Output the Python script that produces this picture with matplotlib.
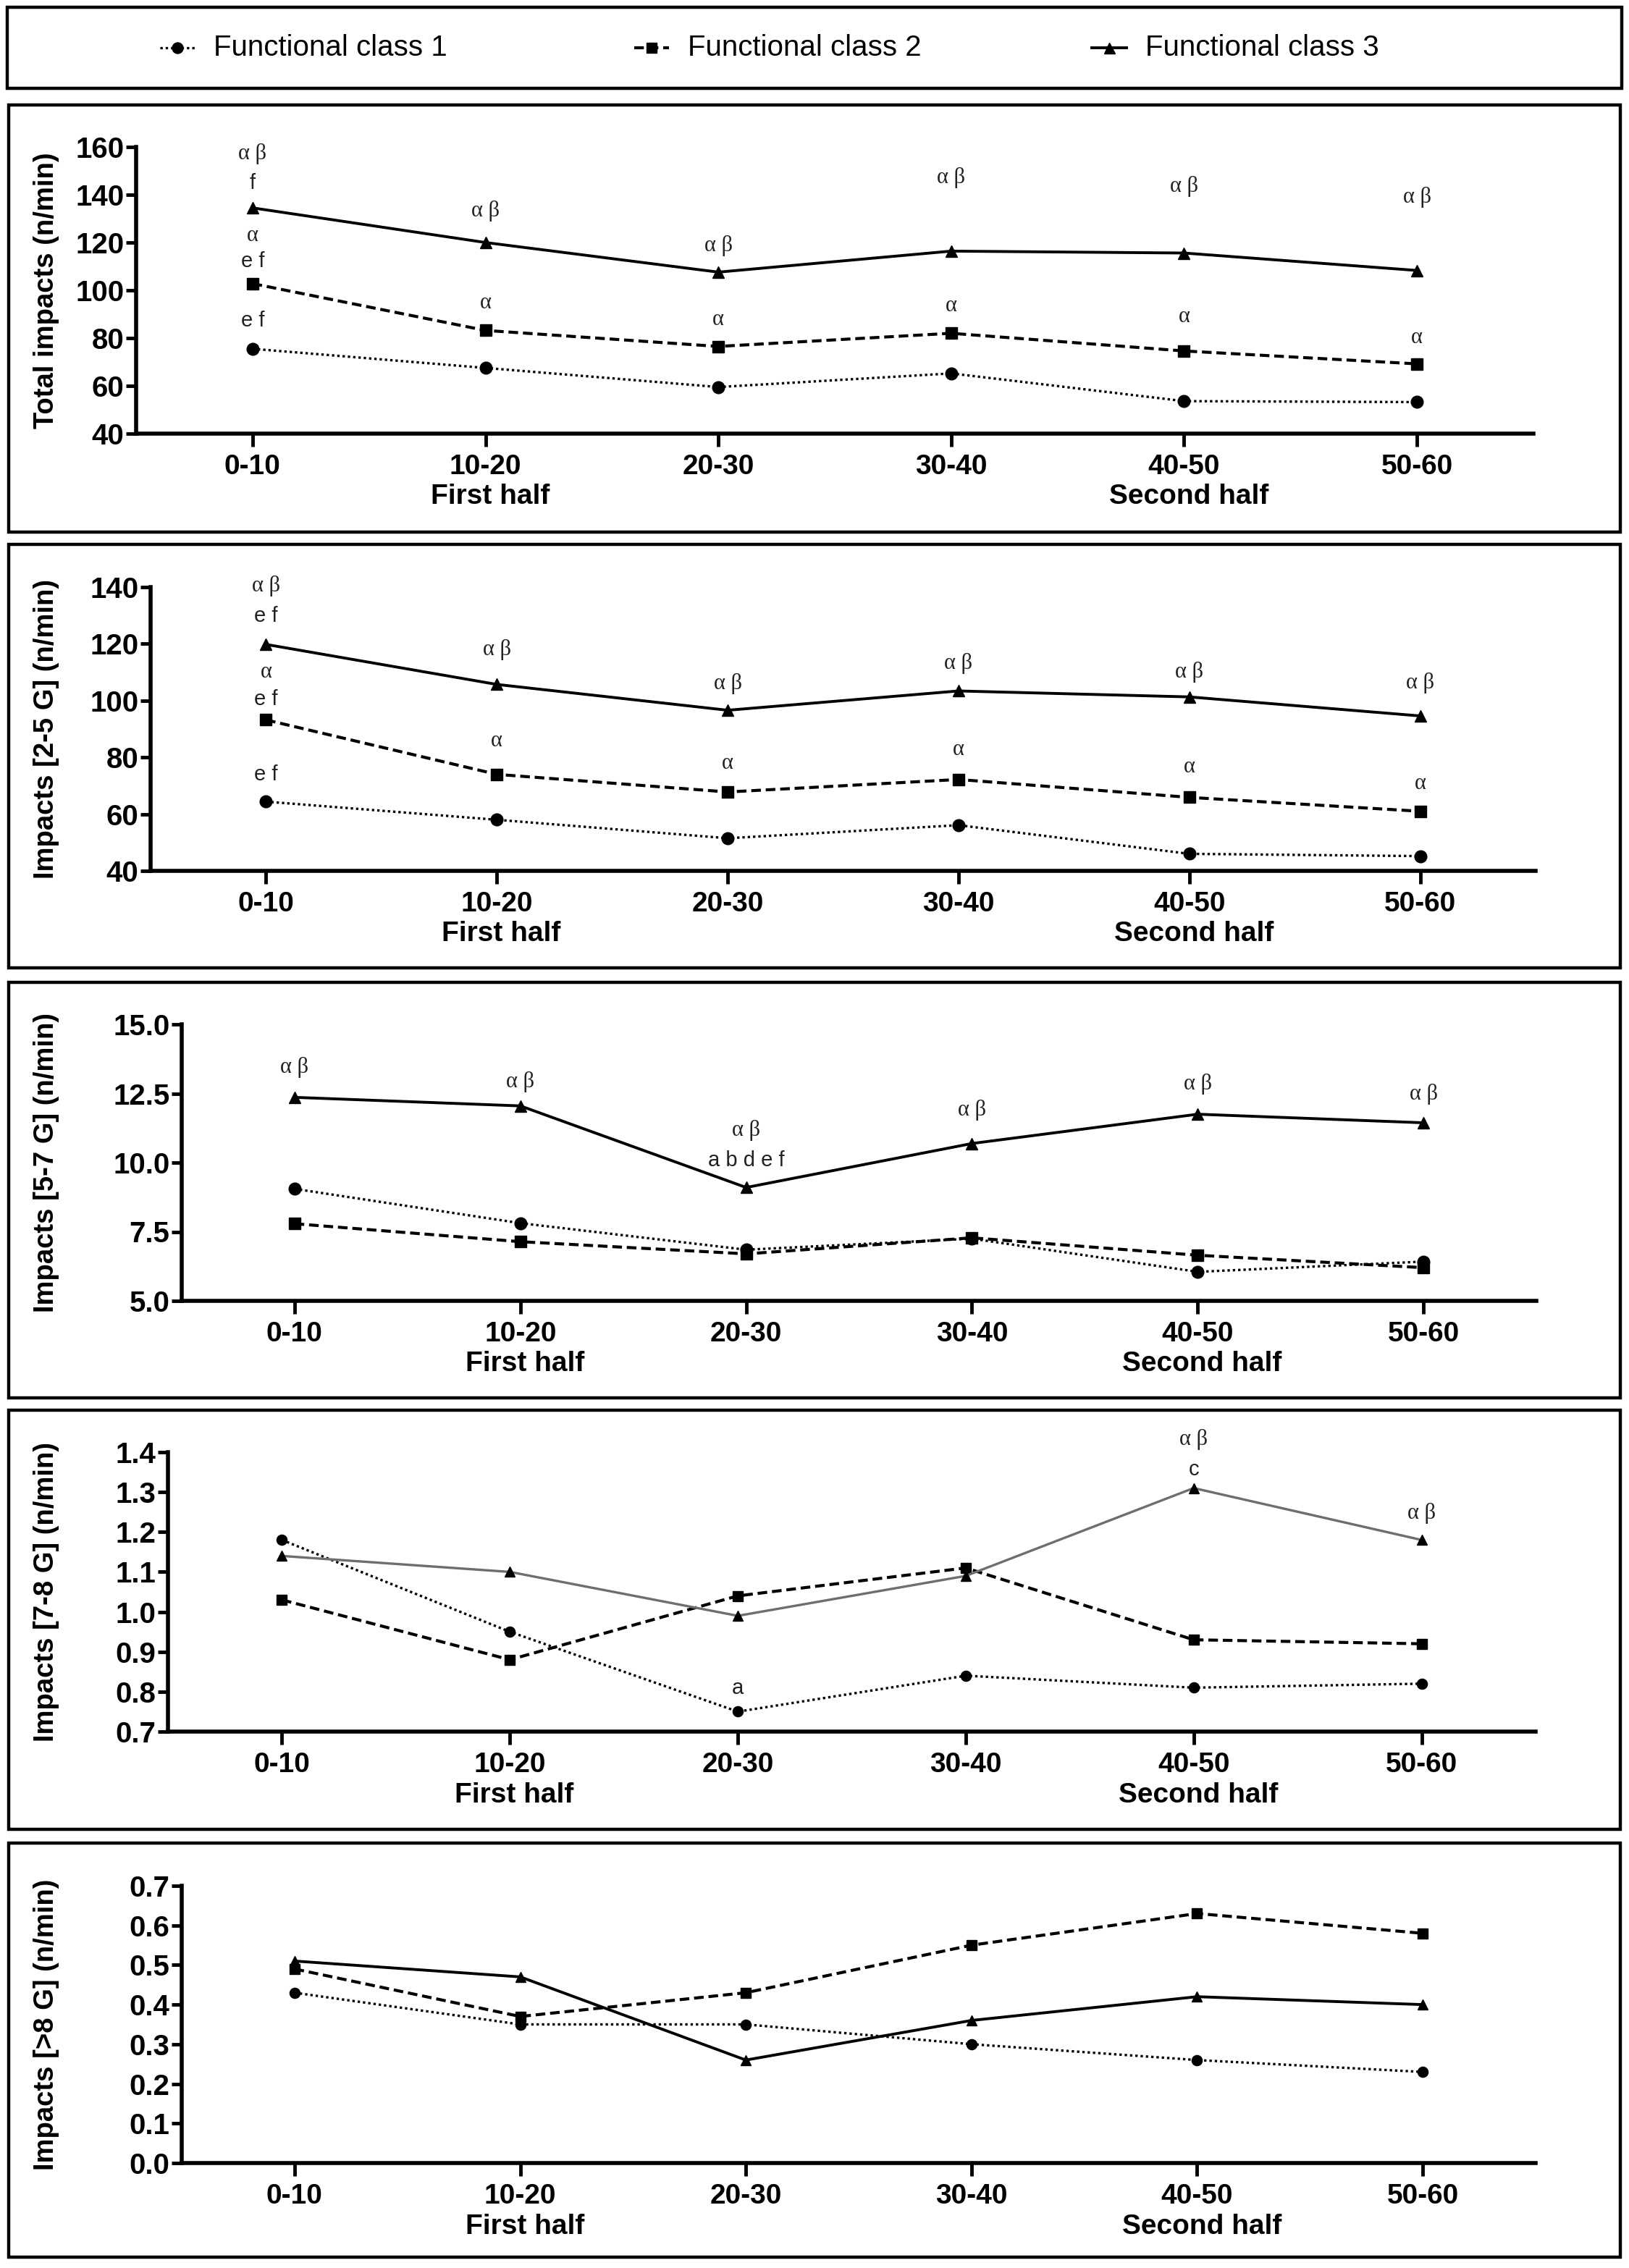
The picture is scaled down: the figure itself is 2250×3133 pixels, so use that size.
import matplotlib
matplotlib.use("Agg")
import matplotlib.pyplot as plt
from matplotlib.patches import Rectangle

W, H, DPI = 2250, 3133, 100

plt.rcParams["font.family"] = ["Liberation Sans", "DejaVu Sans"]
GREEK_FONT = ["Liberation Serif", "DejaVu Serif"]

PERIODS = ["0-10", "10-20", "20-30", "30-40", "40-50", "50-60"]
CLASS_NAMES = ["Functional class 1", "Functional class 2", "Functional class 3"]

# values (n/min)
TOTAL_C1 = [75.5, 67.5, 59.5, 65.2, 53.6, 53.2]
TOTAL_C2 = [102.8, 83.2, 76.5, 82.0, 74.6, 69.2]
TOTAL_C3 = [134.5, 120.0, 107.6, 116.4, 115.6, 108.3]

G25_C1 = [64.4, 58.0, 51.5, 56.1, 46.0, 45.2]
G25_C2 = [93.2, 74.0, 67.8, 72.2, 65.9, 61.0]
G25_C3 = [119.8, 105.7, 96.6, 103.4, 101.3, 94.6]

G57_C1 = [9.05, 7.81, 6.85, 7.25, 6.05, 6.42]
G57_C2 = [7.79, 7.14, 6.70, 7.28, 6.65, 6.20]
G57_C3 = [12.36, 12.05, 9.10, 10.69, 11.75, 11.44]

G78_C1 = [1.18, 0.95, 0.75, 0.84, 0.81, 0.82]
G78_C2 = [1.03, 0.88, 1.04, 1.11, 0.93, 0.92]
G78_C3 = [1.14, 1.10, 0.99, 1.09, 1.31, 1.18]

G8_C1 = [0.43, 0.35, 0.35, 0.30, 0.26, 0.23]
G8_C2 = [0.49, 0.37, 0.43, 0.55, 0.63, 0.58]
G8_C3 = [0.51, 0.47, 0.26, 0.36, 0.42, 0.40]

# significance letters: (period index, y value, text)
TOTAL_NOTES = [(0, 157.2, "α β"), (0, 144.8, "f"), (0, 122.8, "α"), (0, 112.0, "e f"),
               (0, 87.4, "e f"), (1, 133.2, "α β"), (1, 94.6, "α"), (2, 118.6, "α β"),
               (2, 87.6, "α"), (3, 147.2, "α β"), (3, 93.6, "α"), (4, 143.6, "α β"),
               (4, 88.8, "α"), (5, 138.8, "α β"), (5, 80.0, "α")]
G25_NOTES = [(0, 140.5, "α β"), (0, 129.8, "e f"), (0, 110.0, "α"), (0, 100.5, "e f"),
             (0, 74.0, "e f"), (1, 118.0, "α β"), (1, 85.9, "α"), (2, 105.9, "α β"),
             (2, 77.9, "α"), (3, 113.0, "α β"), (3, 82.7, "α"), (4, 110.0, "α β"),
             (4, 76.6, "α"), (5, 106.3, "α β"), (5, 70.7, "α")]
G57_NOTES = [(0, 13.45, "α β"), (1, 12.93, "α β"), (2, 11.17, "α β"), (2, 10.09, "a b d e f"),
             (3, 11.9, "α β"), (4, 12.83, "α β"), (5, 12.47, "α β")]
G78_NOTES = [(2, 0.808, "a"), (4, 1.431, "α β"), (4, 1.356, "c"), (5, 1.247, "α β")]
G8_NOTES = []

# (ylabel, ymin, ymax, step, tick format, series, notes, axes box in px l,t,r,b,
#  small markers, grey class-3 line)
PANELS = [
    ("Total impacts (n/min)", 40, 160, 20, "{:.0f}",
     (TOTAL_C1, TOTAL_C2, TOTAL_C3), TOTAL_NOTES, (188, 203, 2118, 599), False, False),
    ("Impacts [2-5 G] (n/min)", 40, 140, 20, "{:.0f}",
     (G25_C1, G25_C2, G25_C3), G25_NOTES, (208, 811, 2121, 1203), False, False),
    ("Impacts [5-7 G] (n/min)", 5, 15, 2.5, "{:.1f}",
     (G57_C1, G57_C2, G57_C3), G57_NOTES, (251, 1415, 2122, 1797), False, False),
    ("Impacts [7-8 G] (n/min)", 0.7, 1.4, 0.1, "{:.1f}",
     (G78_C1, G78_C2, G78_C3), G78_NOTES, (232, 2006, 2121, 2392), True, True),
    ("Impacts [>8 G] (n/min)", 0.0, 0.7, 0.1, "{:.1f}",
     (G8_C1, G8_C2, G8_C3), G8_NOTES, (251, 2605, 2121, 2988), True, False),
]

# frame boxes in px (l, t, r, b)
BOXES = [(10, 10, 2240, 122), (12, 145, 2238, 735), (12, 752, 2238, 1337),
         (12, 1357, 2238, 1931), (12, 1948, 2238, 2527), (12, 2546, 2238, 3118)]

STYLES = [
    dict(linestyle=(0, (1, 1.2)), marker="o", lw=2.4, ms=12),
    dict(linestyle=(0, (3.2, 1.6)), marker="s", lw=3.0, ms=11.5),
    dict(linestyle="-", marker="^", lw=2.8, ms=12),
]


def px_rect(l, t, r, b):
    return [l / W, (H - b) / H, (r - l) / W, (b - t) / H]


def draw_panel(fig, label, y0, y1, step, fmt, series, notes, box, small, grey3):
    ax = fig.add_axes(px_rect(*box))
    x = list(range(len(PERIODS)))
    for i, (vals, st) in enumerate(zip(series, STYLES)):
        color = "black"
        lw = st["lw"]
        ms = st["ms"] if not small else st["ms"] * 0.85
        if grey3 and i == 2:
            color, lw = "#6e6e6e", 2.4
        ax.plot(x, vals, linestyle=st["linestyle"], color=color, lw=lw,
                marker=st["marker"], ms=ms, mfc="black", mec="black",
                clip_on=False, zorder=3)
    for xi, yv, txt in notes:
        greek = any(c in txt for c in "αβ")
        ax.text(xi, yv, txt, ha="center", va="center",
                fontsize=22 if greek else 21,
                family=GREEK_FONT if greek else None, color="#222222")
    ax.set_xlim(-0.5, 5.5)
    ax.set_ylim(y0, y1)
    n = int(round((y1 - y0) / step))
    ticks = [y0 + k * step for k in range(n + 1)]
    ax.set_yticks(ticks, [fmt.format(t) for t in ticks], fontweight="bold", fontsize=29)
    ax.set_xticks(x, PERIODS, fontweight="bold", fontsize=28)
    for s in ("top", "right"):
        ax.spines[s].set_visible(False)
    for s in ("left", "bottom"):
        ax.spines[s].set_linewidth(4)
    ax.tick_params(axis="y", length=10, width=3.5, pad=2)
    ax.tick_params(axis="x", length=13, width=3.5, pad=7)
    for xi, txt in ((1.02, "First half"), (4.02, "Second half")):
        ax.annotate(txt, xy=(xi, 0), xycoords=("data", "axes fraction"),
                    xytext=(0, -63), textcoords="offset points",
                    ha="center", va="center", fontsize=28, fontweight="bold")
    # y label centred on the axes, common x position
    yc = (H - (box[1] + box[3]) / 2) / H
    fig.text(64 / W, yc, label, rotation=90, ha="center", va="center",
             fontsize=27.5, fontweight="bold")
    return ax


def main():
    fig = plt.figure(figsize=(W / DPI, H / DPI), dpi=DPI)
    for p in PANELS:
        draw_panel(fig, *p)

    over = fig.add_axes([0, 0, 1, 1])
    over.set_xlim(0, W)
    over.set_ylim(H, 0)
    over.axis("off")
    for l, t, r, b in BOXES:
        over.add_patch(Rectangle((l, t), r - l, b - t, fill=False, lw=3.2, ec="black"))

    # legend
    legend_x = [245, 900, 1532]
    for name, st, mx in zip(CLASS_NAMES, STYLES, legend_x):
        over.plot([mx - 24, mx, mx + 24], [66, 66, 66], linestyle=st["linestyle"],
                  color="black", lw=st["lw"], marker=st["marker"], markevery=[1],
                  ms=st["ms"] * 0.9)
        over.text(mx + 50, 66, name, ha="left", va="center", fontsize=29)

    fig.savefig("out.png", dpi=DPI)


if __name__ == "__main__":
    main()
